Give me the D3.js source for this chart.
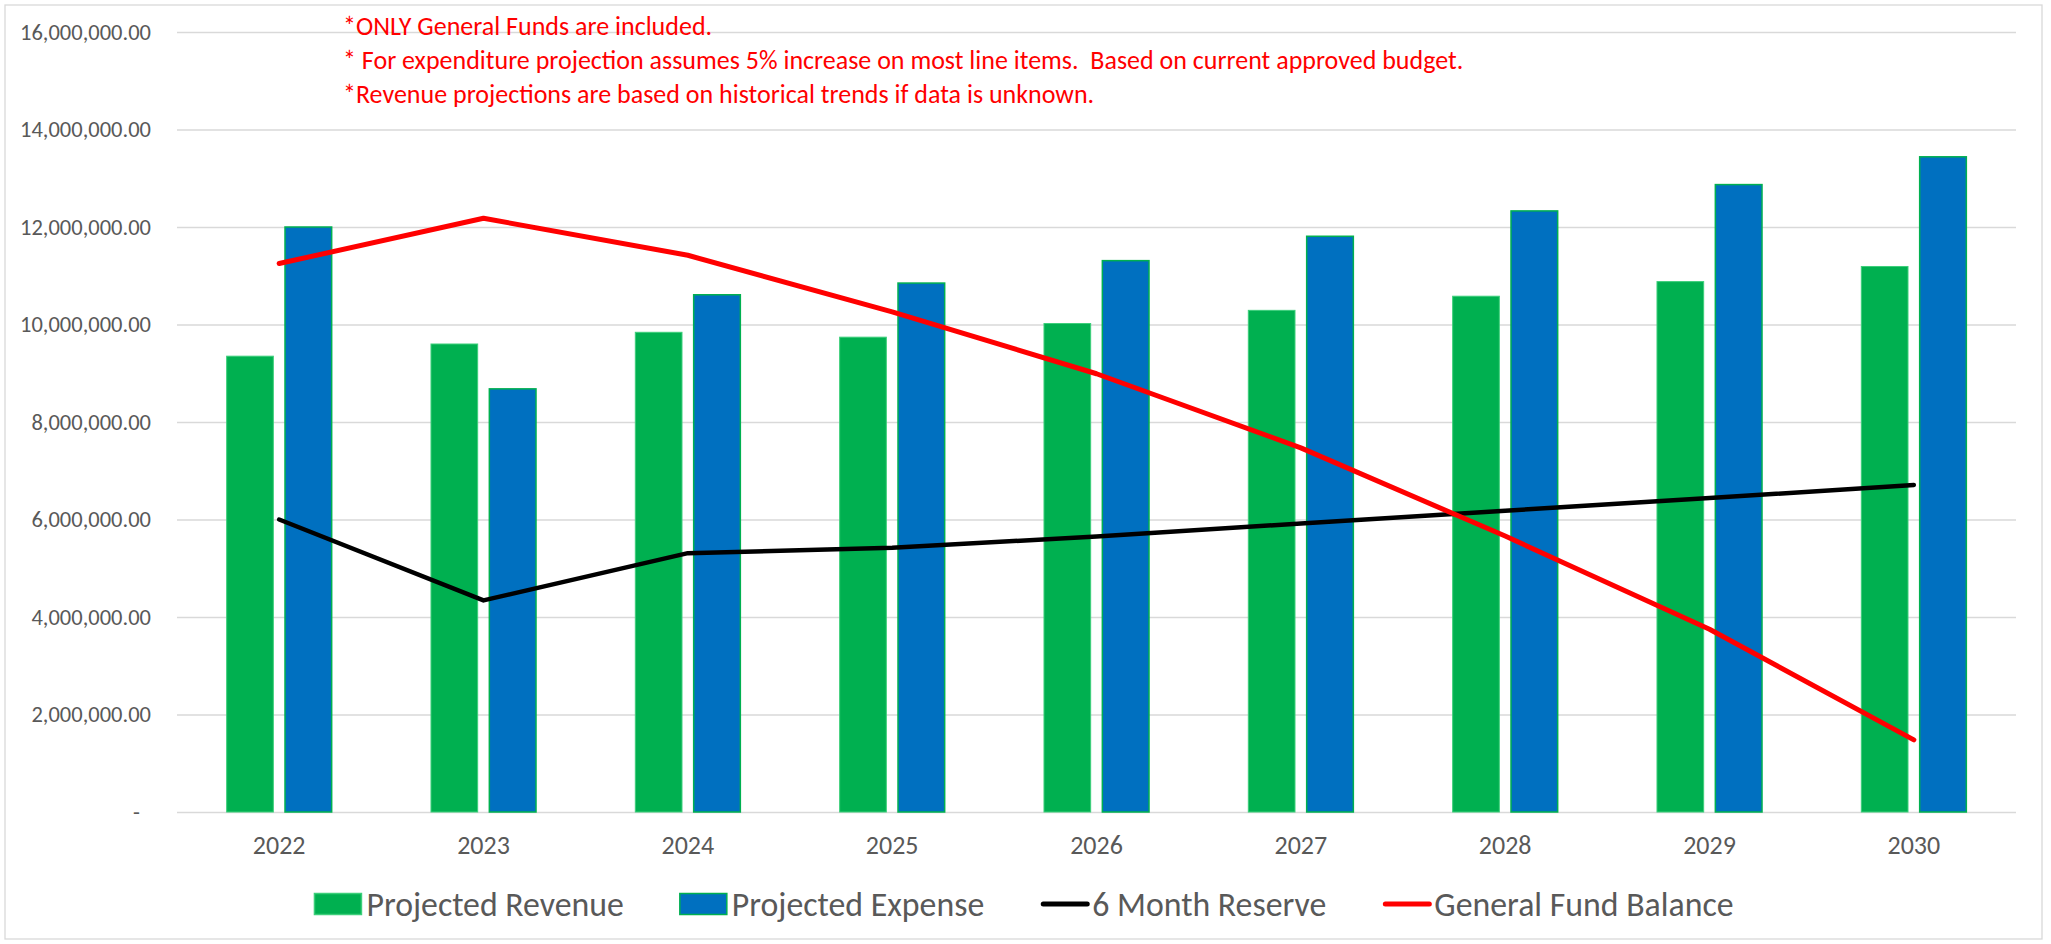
<!DOCTYPE html>
<html>
<head>
<meta charset="utf-8">
<script src="https://cdnjs.cloudflare.com/ajax/libs/d3/7.8.5/d3.min.js"></script>
<style>
  body { margin: 0; background: #ffffff; }
  #chart text { font-family: Calibri, Carlito, "Liberation Sans Narrow", "Open Sans", sans-serif; }
</style>
</head>
<body>
<div id="chart"></div>
<script>

var years = ["2022", "2023", "2024", "2025", "2026", "2027", "2028", "2029", "2030"];
var revenue = [9350000, 9600000, 9840000, 9740000, 10020000, 10290000, 10580000, 10880000, 11190000];
var expense = [12000000, 8680000, 10610000, 10850000, 11310000, 11810000, 12330000, 12870000, 13440000];
var reserve = [6000000, 4340000, 5310000, 5420000, 5650000, 5920000, 6180000, 6440000, 6710000];
var balance = [11250000, 12180000, 11420000, 10260000, 8990000, 7470000, 5660000, 3750000, 1480000];
var yTicks = [0, 2000000, 4000000, 6000000, 8000000, 10000000, 12000000, 14000000, 16000000];
var notes = [
  "*ONLY General Funds are included.",
  "* For expenditure projection assumes 5% increase on most line items.  Based on current approved budget.",
  "*Revenue projections are based on historical trends if data is unknown."
];
var seriesNames = ["Projected Revenue", "Projected Expense", "6 Month Reserve", "General Fund Balance"];

var W = 2051, H = 944;
var plot = { left: 177, right: 2016, top: 32, bottom: 812 };
var green = "#00B050", blue = "#0070C0", textGray = "#595959", gridGray = "#D9D9D9";

function drawChart(id) {
  var svg = d3.select("#" + id).append("svg")
    .attr("width", W)
    .attr("height", H);

  // chart area border
  svg.append("rect")
    .attr("x", 5).attr("y", 5)
    .attr("width", 2037).attr("height", 934)
    .attr("fill", "#ffffff")
    .attr("stroke", gridGray)
    .attr("stroke-width", 1.3)

  var x = d3.scaleBand()
    .domain(years)
    .range([plot.left, plot.right])
    .paddingInner(0.486)
    .paddingOuter(0.243);

  var xs = d3.scaleBand()
    .domain(["rev", "exp"])
    .range([0, x.bandwidth()])
    .paddingInner(0.2);

  var y = d3.scaleLinear()
    .domain([0, 16000000])
    .range([plot.bottom, plot.top]);

  // gridlines
  var grid = svg.append("g")
    .attr("transform", "translate(" + plot.left + ",0)")
    .call(d3.axisLeft(y).tickValues(yTicks).tickSize(-(plot.right - plot.left)).tickFormat(""));
  grid.select(".domain").remove();
  grid.selectAll("line")
    .attr("stroke", gridGray)
    .attr("stroke-width", 1.3);

  // y labels
  var fmt = d3.format(",.2f");
  var yAxis = svg.append("g")
    .attr("transform", "translate(" + plot.left + ",0)")
    .call(d3.axisLeft(y).tickValues(yTicks).tickSize(0).tickPadding(26)
      .tickFormat(function(d) { return d === 0 ? "-" : fmt(d); }));
  yAxis.select(".domain").remove();
  yAxis.selectAll("text")
    .attr("fill", textGray)
    .style("font-size", "22.5px");
  yAxis.selectAll(".tick").filter(function(d) { return d === 0; })
    .select("text").attr("dx", -11);

  // x labels
  var xAxis = svg.append("g")
    .attr("transform", "translate(0," + plot.bottom + ")")
    .call(d3.axisBottom(x).tickSize(0).tickPadding(24));
  xAxis.select(".domain").remove();
  xAxis.selectAll("text")
    .attr("fill", textGray)
    .style("font-size", "26px");

  // bars
  var bars = svg.append("g");
  bars.selectAll(".rev").data(revenue).join("rect")
    .attr("class", "rev")
    .attr("x", function(d, i) { return x(years[i]) + xs("rev"); })
    .attr("y", function(d) { return y(d); })
    .attr("width", xs.bandwidth())
    .attr("height", function(d) { return y(0) - y(d); })
    .attr("fill", green)
    .attr("stroke", "#3ccf7a")
    .attr("stroke-width", 1);

  bars.selectAll(".exp").data(expense).join("rect")
    .attr("class", "exp")
    .attr("x", function(d, i) { return x(years[i]) + xs("exp"); })
    .attr("y", function(d) { return y(d); })
    .attr("width", xs.bandwidth())
    .attr("height", function(d) { return y(0) - y(d); })
    .attr("fill", blue)
    .attr("stroke", green)
    .attr("stroke-width", 1.5);

  // lines
  var line = d3.line()
    .x(function(d, i) { return x(years[i]) + x.bandwidth() / 2; })
    .y(function(d) { return y(d); });

  svg.append("path")
    .datum(reserve)
    .attr("d", line)
    .attr("fill", "none")
    .attr("stroke", "#000000")
    .attr("stroke-width", 4.5)
    .attr("stroke-linecap", "round")
    .attr("stroke-linejoin", "round");

  svg.append("path")
    .datum(balance)
    .attr("d", line)
    .attr("fill", "none")
    .attr("stroke", "#FF0000")
    .attr("stroke-width", 5)
    .attr("stroke-linecap", "round")
    .attr("stroke-linejoin", "round");

  // notes
  svg.append("g").selectAll("text").data(notes).join("text")
    .attr("x", 343)
    .attr("y", function(d, i) { return 35 + i * 34; })
    .attr("fill", "#FF0000")
    .style("font-size", "26px")
    .style("white-space", "pre")
    .text(function(d) { return d; });

  // legend
  var leg = svg.append("g");
  var items = leg.selectAll("g").data(seriesNames).join("g");
  items.append("text")
    .attr("x", 52)
    .attr("y", 0)
    .attr("dy", "0.35em")
    .attr("fill", textGray)
    .style("font-size", "33.8px")
    .text(function(d) { return d; });
  items.each(function(d, i) {
    var g = d3.select(this);
    if (i < 2) {
      g.append("rect")
        .attr("x", 0).attr("y", -10.5)
        .attr("width", 47).attr("height", 21)
        .attr("fill", i === 0 ? green : blue)
        .attr("stroke", i === 0 ? "#3ccf7a" : green)
        .attr("stroke-width", 1.5);
    } else {
      g.append("line")
        .attr("x1", 3).attr("x2", 47)
        .attr("y1", 0).attr("y2", 0)
        .attr("stroke", i === 2 ? "#000000" : "#FF0000")
        .attr("stroke-width", 5)
        .attr("stroke-linecap", "round");
    }
  });

  var pos = 0, gap = 56;
  items.attr("transform", function() {
    var w = 52 + d3.select(this).select("text").node().getComputedTextLength();
    var t = "translate(" + pos + ",0)";
    pos += w + gap;
    return t;
  });
  var total = pos - gap;
  leg.attr("transform", "translate(" + (1024 - total / 2) + ",904)");

  return svg;
}

drawChart("chart");
</script>
</body>
</html>
